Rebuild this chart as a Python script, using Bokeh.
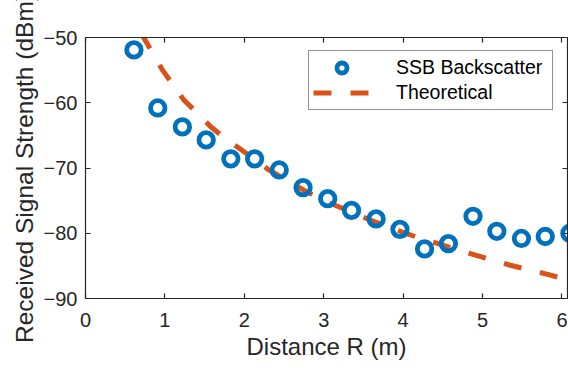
from bokeh.plotting import figure
from bokeh.models import Range1d, FixedTicker, LinearAxis, Legend, LegendItem, ColumnDataSource
from bokeh.embed import file_html
from bokeh.resources import INLINE

# measured data (SSB backscatter), distance in metres
dist_m = [0.61, 0.91, 1.22, 1.52, 1.83, 2.13, 2.44, 2.74, 3.05, 3.35,
          3.66, 3.96, 4.27, 4.57, 4.88, 5.18, 5.49, 5.79, 6.10]
rss_dbm = [-51.9, -60.8, -63.7, -65.7, -68.6, -68.6, -70.3, -73.0, -74.7, -76.5,
           -77.8, -79.4, -82.4, -81.6, -77.4, -79.7, -80.8, -80.5, -80.0]

# theoretical curve
theo_x = [0.70, 0.73, 0.85, 0.97, 1.10, 1.24, 1.41, 1.57, 1.75, 1.95, 2.12, 2.31,
          2.52, 2.75, 3.00, 3.34, 3.57, 3.78, 4.01, 4.22, 4.47, 4.67, 4.90, 5.12,
          5.35, 5.58, 5.82, 6.03, 6.12]
theo_y = [-49.3, -49.95, -52.5, -55.0, -57.2, -59.6, -61.6, -63.6, -65.4, -67.1,
          -68.6, -70.3, -71.8, -73.4, -75.0, -76.7, -77.9, -78.9, -79.9, -80.8,
          -81.7, -82.5, -83.3, -84.1, -84.9, -85.6, -86.3, -87.0, -87.3]

x_ticks = [0, 1, 2, 3, 4, 5, 6]
y_ticks = [-90, -80, -70, -60, -50]

series_names = ["SSB Backscatter", "Theoretical"]

AX = "#262626"
FONT = "Liberation Sans"

p = figure(width=568, height=370, x_range=Range1d(0, 6.07), y_range=Range1d(-90, -50),
           output_backend="svg", toolbar_location=None,
           min_border_left=85, min_border_right=1, min_border_top=37, min_border_bottom=72)
p.outline_line_color = None
p.xgrid.visible = False
p.ygrid.visible = False
p.background_fill_color = "white"
p.border_fill_color = "white"

for ax in (p.xaxis[0], p.yaxis[0]):
    ax.axis_line_color = AX
    ax.axis_line_width = 1.2
    ax.major_tick_line_color = AX
    ax.major_tick_line_width = 1.2
    ax.major_tick_in = 5
    ax.major_tick_out = 0
    ax.minor_tick_line_color = None
    ax.major_label_text_font = FONT
    ax.major_label_text_font_size = "20px"
    ax.major_label_text_color = AX
    ax.axis_label_text_font = FONT
    ax.axis_label_text_font_size = "24px"
    ax.axis_label_text_font_style = "normal"
    ax.axis_label_text_color = AX

p.yaxis.axis_label_text_font_size = "24.5px"
p.xaxis.ticker = FixedTicker(ticks=x_ticks)
p.yaxis.ticker = FixedTicker(ticks=y_ticks)
p.xaxis.axis_label = "Distance R (m)"
p.yaxis.axis_label = "Received Signal Strength (dBm)"
p.xaxis.major_label_standoff = 14
p.yaxis.major_label_standoff = 8
p.xaxis.axis_label_standoff = 3
p.yaxis.axis_label_standoff = 3

# top and right spines with inward ticks but no labels (ticks as unlabeled minor ticks)
top = LinearAxis(ticker=FixedTicker(ticks=[], minor_ticks=x_ticks),
                 minor_tick_in=5, minor_tick_out=0, minor_tick_line_color=AX,
                 minor_tick_line_width=1.2, major_tick_line_color=None,
                 axis_line_color=AX, axis_line_width=1.2, major_label_standoff=0)
right = LinearAxis(ticker=FixedTicker(ticks=[], minor_ticks=y_ticks),
                   minor_tick_in=5, minor_tick_out=0, minor_tick_line_color=AX,
                   minor_tick_line_width=1.2, major_tick_line_color=None,
                   axis_line_color=AX, axis_line_width=1.2, major_label_standoff=0)
p.add_layout(top, "above")
p.add_layout(right, "right")

src_m = ColumnDataSource(dict(x=dist_m, y=rss_dbm))
src_t = ColumnDataSource(dict(x=theo_x, y=theo_y))

r_line = p.line("x", "y", source=src_t, line_color="#D95319", line_width=5,
                line_dash="18 19")
r_pts = p.scatter("x", "y", source=src_m, marker="circle", size=14.5,
                  fill_alpha=0, line_color="#0072BD", line_width=4.8)

legend = Legend(items=[LegendItem(label=series_names[0], renderers=[r_pts]),
                       LegendItem(label=series_names[1], renderers=[r_line])],
                location=(223, 188))
legend.label_text_font = FONT
legend.label_text_font_size = "19.5px"
legend.label_text_color = "#000000"
legend.glyph_width = 57
legend.glyph_height = 25
legend.label_height = 25
legend.label_width = 152
legend.label_standoff = 26
legend.spacing = 0
legend.padding = 4
legend.margin = 0
legend.border_line_color = AX
legend.border_line_width = 1
legend.background_fill_color = "white"
legend.background_fill_alpha = 1
p.add_layout(legend, "center")

open("out.html", "w").write(file_html(p, INLINE))
